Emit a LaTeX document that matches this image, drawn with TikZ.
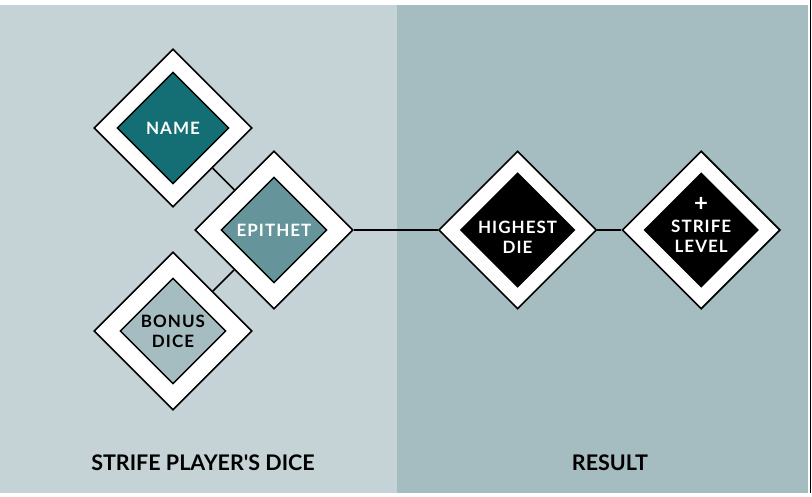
\documentclass[tikz,border=0pt]{standalone}
\usepackage{fontspec}
\newfontfamily\dicefont[LetterSpace=6]{Lato}
\newfontfamily\panelfont{Lato}
\usetikzlibrary{positioning}
\usetikzlibrary{shapes.geometric}

\definecolor{leftpanel}{HTML}{C5D3D6}
\definecolor{rightpanel}{HTML}{A5BCC0}
\definecolor{nameteal}{HTML}{136F73}
\definecolor{epithetteal}{HTML}{65959B}
\definecolor{bonusgrey}{HTML}{A5BCC0}

\tikzset{
  outerdie/.style={diamond,draw=black,line width=1.6pt,fill=white,minimum size=158pt,inner sep=0pt},
  innerdie/.style={diamond,draw=black,line width=1.4pt,minimum size=#1,inner sep=0pt},
  dielabel/.style={font=\dicefont\bfseries\fontsize{17}{20}\selectfont,align=center,text=white},
  panellabel/.style={font=\panelfont\bfseries\fontsize{21.5}{25}\selectfont},
  link/.style={line width=1.6pt}
}

\begin{document}
\begin{tikzpicture}[x=1pt,y=-1pt,node distance=20pt]
\useasboundingbox (0,0) rectangle (812,496);
\fill[white] (0,0) rectangle (812,496);
\fill[leftpanel] (0,5) rectangle (397,493);
\fill[rightpanel] (397,5) rectangle (808,493);
\draw[line width=1.5pt] (810.5,0) -- (810.5,493);

% player's dice
\node[outerdie] (name) at (173,128) {};
\node[outerdie] (epithet) at (274,230) {};
\node[outerdie] (bonus) at (173,331) {};
\node[innerdie=112pt,fill=nameteal,dielabel] (namein) at (name) {NAME};
\node[innerdie=106pt,fill=epithetteal,dielabel] (epithetin) at (epithet) {EPITHET};
\node[innerdie=106pt,fill=bonusgrey,dielabel,text=black] (bonusin) at (bonus) {BONUS\\DICE};

% result
\node[outerdie,right=84pt of epithet] (highest) {};
\node[outerdie,right=24pt of highest] (strife) {};
\node[innerdie=114pt,fill=black] (highestin) at (highest) {};
\node[innerdie=114pt,fill=black] (strifein) at (strife) {};
\node[dielabel,yshift=-7pt] (highestlbl) at (highest) {HIGHEST\\DIE};
\node[dielabel,yshift=5pt] (strifelbl) at (strife) {{\fontsize{24}{20}\selectfont+}\\[1pt]STRIFE\\LEVEL};

\draw[link] (name) -- (epithet);
\draw[link] (bonus) -- (epithet);
\draw[link] (epithet) -- (highest);
\draw[link] (highest) -- (strife);

\node[panellabel] (playerlbl) at (203,463) {STRIFE PLAYER'S DICE};
\node[panellabel] (resultlbl) at (610,463) {RESULT};
\end{tikzpicture}
\end{document}
